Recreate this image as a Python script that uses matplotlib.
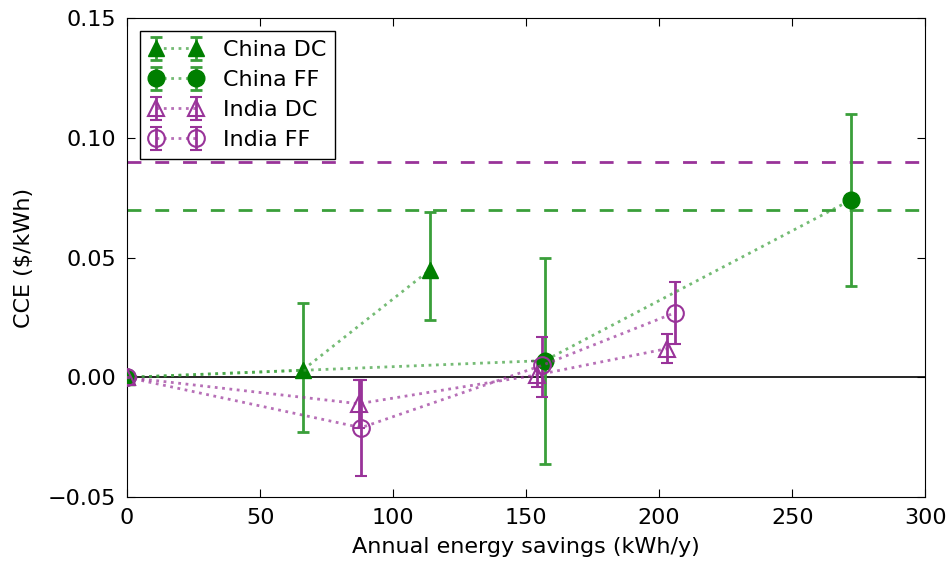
import matplotlib
matplotlib.use('Agg')
import matplotlib.pyplot as plt
from matplotlib.colors import to_rgba

# China DC
cdc_x = [0, 66, 114]
cdc_y = [0.0, 0.003, 0.045]
cdc_lo = [0.0, 0.026, 0.021]
cdc_hi = [0.0, 0.028, 0.024]

# China FF
cff_x = [0, 157, 272]
cff_y = [0.0, 0.007, 0.074]
cff_lo = [0.0, 0.043, 0.036]
cff_hi = [0.0, 0.043, 0.036]

# India DC
idc_x = [0, 87, 154, 203]
idc_y = [0.0, -0.011, 0.001, 0.012]
idc_lo = [0.0, 0.010, 0.005, 0.006]
idc_hi = [0.0, 0.010, 0.006, 0.006]

# India FF
iff_x = [0, 88, 156, 206]
iff_y = [0.0, -0.021, 0.005, 0.027]
iff_lo = [0.0, 0.020, 0.013, 0.013]
iff_hi = [0.0, 0.020, 0.012, 0.013]

china_ref = 0.07
india_ref = 0.09

green = '#007f00'
green_err = '#3a9f3a'
purple = '#993399'

plt.rcParams['font.family'] = 'DejaVu Sans'
fig = plt.figure(figsize=(9.48, 5.63), dpi=100)
ax = fig.add_axes([0.134, 0.117, 0.842, 0.851])

ax.axhline(0, color='black', lw=1.2)
ax.axhline(china_ref, color=green_err, lw=2, ls=(0, (5, 5)))
ax.axhline(india_ref, color=purple, lw=2, ls=(0, (5, 5)))

common = dict(ls=':', lw=2, elinewidth=2, capsize=4, capthick=2, markersize=12, zorder=3)

ax.errorbar(cdc_x, cdc_y, yerr=[cdc_lo, cdc_hi], fmt='^', color=to_rgba(green_err, 0.7),
            mfc=green, mec=green, ecolor=green_err, label='China DC', **common)
ax.errorbar(cff_x, cff_y, yerr=[cff_lo, cff_hi], fmt='o', color=to_rgba(green_err, 0.7),
            mfc=green, mec=green, ecolor=green_err, label='China FF', **common)
ax.errorbar(idc_x, idc_y, yerr=[idc_lo, idc_hi], fmt='^', color=to_rgba(purple, 0.7),
            mfc='none', mec=purple, mew=1.5, ecolor=purple, label='India DC', **common)
ax.errorbar(iff_x, iff_y, yerr=[iff_lo, iff_hi], fmt='o', color=to_rgba(purple, 0.7),
            mfc='none', mec=purple, mew=1.5, ecolor=purple, label='India FF', **common)

ax.set_xlim(0, 300)
ax.set_ylim(-0.05, 0.15)
ax.set_xticks([0, 50, 100, 150, 200, 250, 300])
ax.set_yticks([-0.05, 0.0, 0.05, 0.10, 0.15])
ax.set_yticklabels(['\u22120.05', '0.00', '0.05', '0.10', '0.15'])
ax.tick_params(direction='in', top=True, right=True, labelsize=16, length=6, pad=8)
ax.set_xlabel('Annual energy savings (kWh/y)', fontsize=16, labelpad=6)
ax.set_ylabel('CCE ($/kWh)', fontsize=16, labelpad=10)

leg = ax.legend(loc='upper left', numpoints=2, fontsize=16, fancybox=False,
                framealpha=1, edgecolor='black', handlelength=2.4,
                borderaxespad=0.6, labelspacing=0.45, handletextpad=0.9)
leg.get_frame().set_linewidth(1)

fig.savefig('out.png', dpi=100)
